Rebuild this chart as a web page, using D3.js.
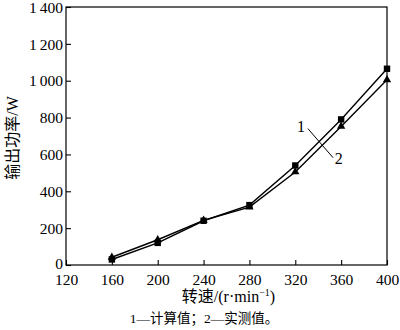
<!DOCTYPE html>
<html lang="zh">
<head>
    <meta charset="UTF-8">
    <script src="https://d3js.org/d3.v7.min.js"></script>
    <title>转速-输出功率</title>
    <style>
        body{ margin: 0; background: #fff; }
        svg text{ font-family: "Liberation Serif", "Times New Roman", "Noto Sans CJK SC", serif; fill: #000; }
    </style>
</head>
<body>
    <div id="chart"></div>
<script>
// data
const speeds = [160, 200, 240, 280, 320, 360, 400];
const calcPower = [30, 120, 240, 325, 540, 790, 1065];   // 1 - 计算值 (squares)
const measPower = [42, 137, 242, 314, 505, 752, 1005];   // 2 - 实测值 (triangles)
const xTicks = [120, 160, 200, 240, 280, 320, 360, 400];
const yTicks = [0, 200, 400, 600, 800, 1000, 1200, 1400];

const W = 400, H = 330;
const margin = { top: 7, right: 13, bottom: 65, left: 66 };
const width = W - margin.left - margin.right;
const height = H - margin.top - margin.bottom;

const svg = d3.select("#chart").append("svg").attr("width", W).attr("height", H);
const g = svg.append("g").attr("transform", `translate(${margin.left},${margin.top})`);

const x = d3.scaleLinear().domain([120, 400]).range([0, width]);
const y = d3.scaleLinear().domain([0, 1400]).range([height, 0]);

// thousands with a thin space, like "1 400"
const fmt = v => v >= 1000 ? String(v).replace(/(\d)(\d{3})$/, "$1\u2009$2") : String(v);

// frame
g.append("rect").attr("width", width).attr("height", height)
    .attr("fill", "none").attr("stroke", "#000").attr("stroke-width", 1.2);

// axes, ticks inside
const xAxis = g.append("g").attr("transform", `translate(0,${height})`)
    .call(d3.axisBottom(x).tickValues(xTicks).tickSizeInner(-5).tickSizeOuter(0).tickPadding(11));
const yAxis = g.append("g")
    .call(d3.axisLeft(y).tickValues(yTicks).tickFormat(fmt).tickSizeInner(-5).tickSizeOuter(0).tickPadding(8));
[xAxis, yAxis].forEach(a => {
    a.select(".domain").remove();
    a.selectAll(".tick line").attr("stroke", "#000").attr("stroke-width", 1.1);
    a.selectAll(".tick text").attr("font-size", 15.5).attr("font-family", "Liberation Serif, serif");
});
xAxis.selectAll(".tick text").attr("dy", "0.55em");
yAxis.selectAll(".tick text").attr("dy", d => d === 0 ? "0.2em" : "0.34em").attr("dx", 5);

// lines
const line = d3.line().x(d => x(d[0])).y(d => y(d[1]));
const s1 = speeds.map((s, i) => [s, calcPower[i]]);
const s2 = speeds.map((s, i) => [s, measPower[i]]);

// leader line for labels 1 and 2
g.append("line")
    .attr("x1", x(331)).attr("y1", y(740))
    .attr("x2", x(353)).attr("y2", y(582))
    .attr("stroke", "#000").attr("stroke-width", 1);
g.append("text").attr("x", x(325)).attr("y", y(722)).attr("font-size", 16).attr("text-anchor", "middle").text("1");
g.append("text").attr("x", x(358)).attr("y", y(548)).attr("font-size", 16).attr("text-anchor", "middle").text("2");

[s1, s2].forEach(d => {
    g.append("path").datum(d).attr("d", line)
        .attr("fill", "none").attr("stroke", "#000").attr("stroke-width", 1.4);
});

// markers
g.selectAll(".sq").data(s1).join("rect").attr("class", "sq")
    .attr("x", d => x(d[0]) - 3.2).attr("y", d => y(d[1]) - 3.2)
    .attr("width", 6.4).attr("height", 6.4).attr("fill", "#000");
const tri = d3.symbol().type(d3.symbolTriangle).size(30);
g.selectAll(".tri").data(s2).join("path").attr("class", "tri")
    .attr("transform", d => `translate(${x(d[0])},${y(d[1])})`)
    .attr("d", tri).attr("fill", "#000");

// axis titles
const xt = svg.append("text").attr("x", margin.left + width / 2 + 2).attr("y", 302)
    .attr("text-anchor", "middle").attr("font-size", 16);
xt.append("tspan").text("转速/(r·min");
xt.append("tspan").attr("font-size", 10).attr("dy", -6).text("−1");
xt.append("tspan").attr("dy", 6).text(")");

svg.append("text")
    .attr("transform", `translate(18,${margin.top + height / 2 + 2}) rotate(-90)`)
    .attr("text-anchor", "middle").attr("font-size", 16).text("输出功率/W");

// caption
svg.append("text").attr("x", 204).attr("y", 323).attr("text-anchor", "middle")
    .attr("font-size", 13.5).text("1—计算值；2—实测值。");
</script>
</body>
</html>
